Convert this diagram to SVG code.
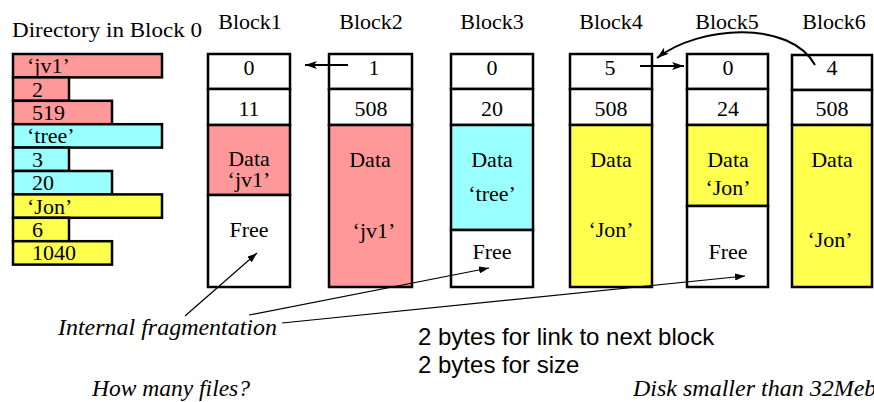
<svg xmlns="http://www.w3.org/2000/svg" width="874" height="402" viewBox="0 0 874 402">
<defs>
<style>
.t{font-family:"Liberation Serif","Times New Roman",serif;font-size:22px;fill:#000}
.m{text-anchor:middle}
.it{font-family:"Liberation Serif","Times New Roman",serif;font-style:italic;font-size:23.5px;fill:#000}
.s{font-family:"Liberation Sans",Arial,sans-serif;font-size:24px;fill:#000}
.b{stroke:#000;stroke-width:2.5}
.w{fill:#fff}.p{fill:#FF9999}.c{fill:#99FFFF}.y{fill:#FFFF4D}
.ln{fill:none;stroke:#000}
</style>
<marker id="ah" viewBox="0 0 12 8" refX="12" refY="4" markerWidth="12" markerHeight="8" markerUnits="userSpaceOnUse" orient="auto"><path d="M0,0 L12,4 L0,8 L3,4 Z" fill="#000"/></marker>
<marker id="as" viewBox="0 0 10 7" refX="10" refY="3.5" markerWidth="10" markerHeight="7" markerUnits="userSpaceOnUse" orient="auto"><path d="M0,0 L10,3.5 L0,7 Z" fill="#000"/></marker>
</defs>
<rect width="874" height="402" fill="#fff"/>

<g id="directory">
<text class="t" x="12" y="37" textLength="190" lengthAdjust="spacingAndGlyphs">Directory in Block 0</text>
<rect class="b p" x="13" y="54" width="149" height="23.4"/>
<rect class="b p" x="13" y="77.4" width="56" height="23.4"/>
<rect class="b p" x="13" y="100.8" width="99" height="23.4"/>
<rect class="b c" x="13" y="124.2" width="149" height="23.4"/>
<rect class="b c" x="13" y="147.6" width="56" height="23.4"/>
<rect class="b c" x="13" y="171" width="99" height="23.4"/>
<rect class="b y" x="13" y="194.4" width="149" height="23.4"/>
<rect class="b y" x="13" y="217.8" width="56" height="23.4"/>
<rect class="b y" x="13" y="241.2" width="99" height="23.4"/>
<text class="t" x="27" y="73">‘jv1’</text>
<text class="t" x="32" y="96.5">2</text>
<text class="t" x="32" y="120">519</text>
<text class="t" x="27" y="143">‘tree’</text>
<text class="t" x="32" y="166.5">3</text>
<text class="t" x="32" y="190">20</text>
<text class="t" x="27" y="213.5">‘Jon’</text>
<text class="t" x="32" y="237">6</text>
<text class="t" x="32" y="260">1040</text>
</g>

<g id="block1">
<text class="t m" x="250" y="29">Block1</text>
<rect class="b w" x="208" y="54" width="82" height="35"/>
<rect class="b w" x="208" y="89" width="82" height="36"/>
<rect class="b p" x="208" y="125" width="82" height="70"/>
<rect class="b w" x="208" y="195" width="82" height="92"/>
<text class="t m" x="249" y="75">0</text>
<text class="t m" x="249" y="116">11</text>
<text class="t m" x="249" y="166">Data</text>
<text class="t m" x="249" y="187">‘jv1’</text>
<text class="t m" x="249" y="237">Free</text>
</g>

<g id="block2">
<text class="t m" x="371" y="29">Block2</text>
<rect class="b w" x="329" y="54" width="83" height="35"/>
<rect class="b w" x="329" y="89" width="83" height="36"/>
<rect class="b p" x="329" y="125" width="83" height="162"/>
<text class="t m" x="374" y="75">1</text>
<text class="t m" x="371" y="116">508</text>
<text class="t m" x="370" y="167">Data</text>
<text class="t m" x="374" y="238">‘jv1’</text>
</g>

<g id="block3">
<text class="t m" x="492" y="29">Block3</text>
<rect class="b w" x="451" y="54" width="82" height="35"/>
<rect class="b w" x="451" y="89" width="82" height="36"/>
<rect class="b c" x="451" y="125" width="82" height="105"/>
<rect class="b w" x="451" y="230" width="82" height="57"/>
<text class="t m" x="492" y="75">0</text>
<text class="t m" x="492" y="116">20</text>
<text class="t m" x="492" y="167">Data</text>
<text class="t m" x="492" y="201">‘tree’</text>
<text class="t m" x="492" y="259">Free</text>
</g>

<g id="block4">
<text class="t m" x="611" y="29">Block4</text>
<rect class="b w" x="570" y="54" width="82" height="35"/>
<rect class="b w" x="570" y="89" width="82" height="36"/>
<rect class="b y" x="570" y="125" width="82" height="162"/>
<text class="t m" x="610" y="75">5</text>
<text class="t m" x="611" y="116">508</text>
<text class="t m" x="611" y="167">Data</text>
<text class="t m" x="611" y="237">‘Jon’</text>
</g>

<g id="block5">
<text class="t m" x="727" y="29">Block5</text>
<rect class="b w" x="687" y="54" width="81" height="35"/>
<rect class="b w" x="687" y="89" width="81" height="36"/>
<rect class="b y" x="687" y="125" width="81" height="81"/>
<rect class="b w" x="687" y="206" width="81" height="81"/>
<text class="t m" x="728" y="75">0</text>
<text class="t m" x="728" y="116">24</text>
<text class="t m" x="728" y="167">Data</text>
<text class="t m" x="728" y="195">‘Jon’</text>
<text class="t m" x="728" y="259">Free</text>
</g>

<g id="block6">
<text class="t m" x="834" y="29">Block6</text>
<rect class="b w" x="792" y="55" width="80" height="35"/>
<rect class="b w" x="792" y="90" width="80" height="35"/>
<rect class="b y" x="792" y="125" width="80" height="162"/>
<text class="t m" x="832" y="75">4</text>
<text class="t m" x="832" y="116">508</text>
<text class="t m" x="832" y="167">Data</text>
<text class="t m" x="830" y="247">‘Jon’</text>
</g>

<g id="connectors">
<line class="ln" x1="348" y1="65" x2="305" y2="65" stroke-width="2" marker-end="url(#ah)"/>
<line class="ln" x1="640" y1="66" x2="684" y2="66" stroke-width="2" marker-end="url(#ah)"/>
<path class="ln" d="M815,65 C790,20 700,25 657,58" stroke-width="2" marker-end="url(#ah)"/>
<line class="ln" x1="185" y1="316" x2="257" y2="253" stroke-width="1.2" marker-end="url(#as)"/>
<line class="ln" x1="249" y1="315" x2="489" y2="268" stroke-width="1.2" marker-end="url(#as)"/>
<line class="ln" x1="282" y1="323" x2="745" y2="276" stroke-width="1.2" marker-end="url(#as)"/>
</g>

<g id="notes">
<text class="it" x="58" y="335" textLength="219" lengthAdjust="spacingAndGlyphs">Internal fragmentation</text>
<text class="s" x="418" y="345">2 bytes for link to next block</text>
<text class="s" x="418" y="373">2 bytes for size</text>
<text class="it" x="92" y="396" textLength="158" lengthAdjust="spacingAndGlyphs">How many files?</text>
<text class="it" x="633" y="396" style="font-size:24px">Disk smaller than 32Meb</text>
</g>
</svg>
